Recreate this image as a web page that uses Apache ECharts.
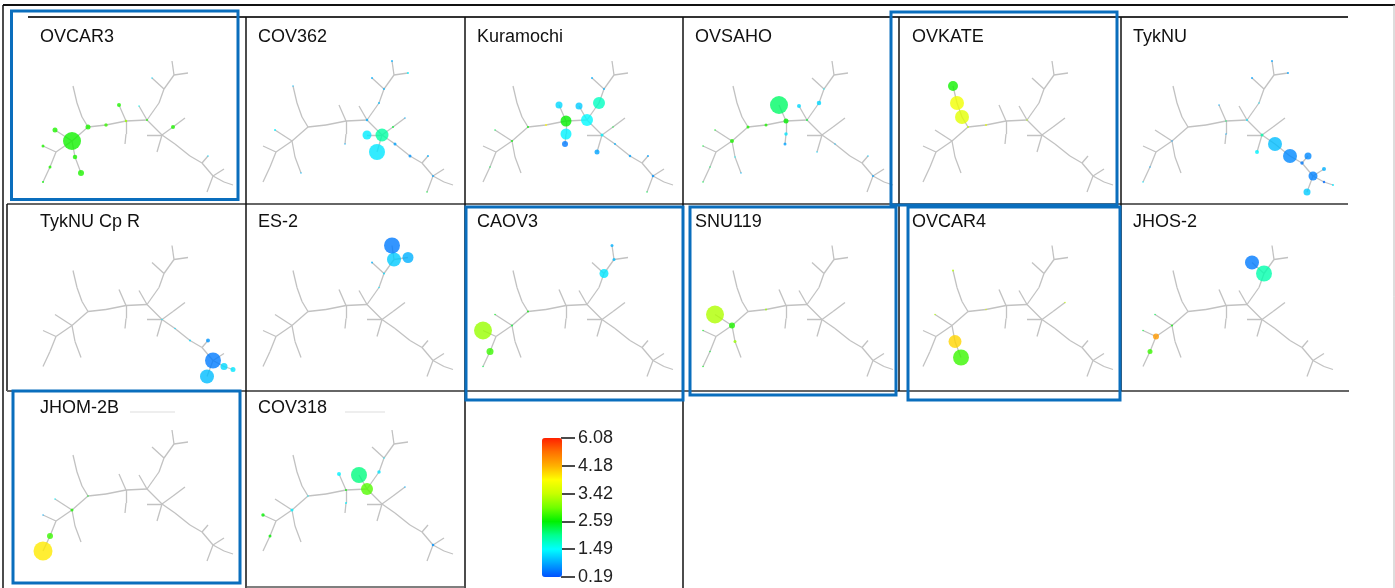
<!DOCTYPE html>
<html><head><meta charset="utf-8">
<script src="https://cdn.jsdelivr.net/npm/echarts@6/dist/echarts.min.js"></script>
<style>html,body{margin:0;padding:0;background:#fff}#c{width:1395px;height:588px}</style>
</head><body><div id="c"></div>
<script>
// ---- colour scale ticks ----
const tickValues = [0.19, 1.49, 2.59, 3.42, 4.18, 6.08];
const tickLabels = ['0.19', '1.49', '2.59', '3.42', '4.18', '6.08'];

// ---- shared tree layout (tree units) ----
const treeNodeNames = ['L1','A1','A','L2','B','Bul','Bd1','L3','C','Cu1','Cu2','L4','S1','D','Du','Dd1','Dd','E','Eu','EF1','F','Fl','H','Hu','Hr','G','Gl','Gd','Gur1','Gur','GI1','GI2','I','Il','J','Jur','Jdl','Jr1','Jr'];
const treeNodeX = [17,24,30,17,46,29,49,55,62,56,51,47,80,100,93,100,99,121,113,133,138,126,148,146,162,136,121,131,147,159,149,164,176,182,187,198,181,198,207];
const treeNodeY = [165,150,135,129,124,113,140,156,110,100,86,69,108,104,88,117,127,103,89,86,72,61,58,44,56,118,118,135,110,101,127,139,146,139,159,152,175,165,168];
const treeEdges = [['L1','A1'],['A1','A'],['A','L2'],['A','B'],['B','Bul'],['B','Bd1'],['Bd1','L3'],['B','C'],['C','Cu1'],['Cu1','Cu2'],['Cu2','L4'],['C','S1'],['S1','D'],['D','Du'],['D','Dd1'],['Dd1','Dd'],['D','E'],['E','Eu'],['E','EF1'],['EF1','F'],['F','Fl'],['F','H'],['H','Hu'],['H','Hr'],['E','G'],['G','Gl'],['G','Gd'],['G','Gur1'],['Gur1','Gur'],['G','GI1'],['GI1','GI2'],['GI2','I'],['I','Il'],['I','J'],['J','Jur'],['J','Jdl'],['J','Jr1'],['Jr1','Jr']];

// ---- panels ----
const panelNames = ['OVCAR3','COV362','Kuramochi','OVSAHO','OVKATE','TykNU','TykNU Cp R','ES-2','CAOV3','SNU119','OVCAR4','JHOS-2','JHOM-2B','COV318'];
const panelCol = [0,1,2,3,4,5,0,1,2,3,4,5,0,1];
const panelRow = [0,0,0,0,0,0,1,1,1,1,1,1,2,2];

// per panel markers: [node, value, size]
const OVCAR3 = [['Eu',1.5,1.5],['Fl',1.2,1.5],['Il',1.2,1.5],['L1',2.6,2],['L2',2.7,3],['A1',2.7,3],['E',2.7,2],['D',3.2,2.5],['S1',2.8,3.5],['Du',2.7,4],['Gur1',2.7,4],['Bd1',2.7,4.5],['Bul',2.7,5],['C',2.7,5],['L3',2.7,6],['B',2.65,18]];
const COV362 = [['Hu',0.9,2],['Hr',1.4,2],['Fl',0.9,2],['F',0.9,2],['EF1',1.0,2],['E',0.9,2.5],['Dd',0.9,1.5],['GI1',0.8,3],['GI2',0.7,3],['Il',0.9,2],['J',0.8,2],['Jdl',2.4,1.5],['Gur1',2.4,2],['Gur',0.9,1.5],['Bul',1.4,2],['L3',1.0,1.5],['L4',1.0,1.5],['Gl',1.35,9],['G',1.95,13],['Gd',1.3,16]];
const Kuramochi = [['F',0.9,2],['Fl',0.9,2],['Gur1',2.4,1.5],['GI1',0.9,2],['GI2',0.8,2.5],['Il',0.8,2],['J',0.7,2.5],['Jdl',2.3,1.5],['C',2.6,2],['S1',3.8,2],['B',2.6,2],['A1',2.3,1.5],['Bul',2.3,1.5],['G',1.4,3],['Gd',0.8,5],['Dd',0.5,6],['Du',1.2,7],['Eu',1.1,7],['D',2.6,11],['Dd1',1.4,11],['E',1.45,12],['EF1',1.8,12]];
const OVSAHO = [['Bul',2.5,1.5],['L2',2.4,1.5],['A1',2.2,1.5],['L1',2.3,1.5],['Bd1',1.4,1.5],['L3',1.0,1.5],['F',1.4,1.5],['Il',1.1,1.5],['J',0.8,2],['GI1',1.0,1.5],['Gd',1.2,1.5],['E',2.4,2],['S1',2.7,3],['C',2.7,3],['B',2.7,4],['Dd',0.8,3],['Dd1',1.3,3.5],['Eu',1.2,4],['EF1',1.2,4.5],['D',2.6,5],['Du',2.2,18]];
const OVKATE = [['S1',3.6,2],['C',3.4,2],['E',3.3,1.5],['L4',2.65,10],['Cu2',3.7,14],['Cu1',3.6,14]];
const TykNU = [['Hu',0.8,2],['Hr',0.8,2],['Fl',0.8,2],['EF1',1.3,1.5],['E',1.3,2],['Du',0.9,1.5],['D',2.2,1.5],['Dd1',0.9,1.5],['B',0.8,1.5],['L1',1.3,1.5],['A1',0.9,1.5],['G',1.9,3],['Gd',1.4,4],['Jr1',0.4,2.5],['Jr',1.3,2],['I',0.5,3.5],['Jur',0.9,4],['Il',0.6,7],['Jdl',1.1,7],['J',0.55,9],['GI1',1.0,14],['GI2',0.6,14]];
const TykNUCpR = [['GI1',1.2,1.5],['GI2',1.2,2],['G',1.3,1.5],['Il',0.7,4],['Jr',1.3,5],['Jr1',1.2,7],['Jdl',1.0,14],['J',0.5,16]];
const ES2 = [['Fl',0.9,2],['F',1.2,2],['EF1',1.3,1.5],['Hr',0.9,11],['H',1.1,14],['Hu',0.5,16]];
const CAOV3 = [['C',2.6,2],['Bul',2.5,1.5],['B',2.4,2],['L1',2.3,1.5],['Hu',0.9,3],['H',1.0,3],['A1',2.8,7],['F',1.3,9],['L2',3.2,18]];
const SNU119 = [['L2',2.5,1.5],['A1',2.4,1.5],['L1',2.5,1.5],['S1',3.2,2],['Bd1',3.2,3],['B',2.7,6],['Bul',3.3,18]];
const OVCAR4 = [['L4',3.3,2],['Bul',3.3,1.5],['S1',3.5,1.5],['Gur',3.4,1.5],['Bd1',4.0,13],['L3',2.8,16]];
const JHOS2 = [['L2',2.4,1.5],['B',2.6,2],['Bul',2.3,1.5],['A1',2.8,5],['A',4.5,6],['Fl',0.5,14],['F',1.9,16]];
const JHOM2B = [['Bul',1.4,1.5],['L2',0.9,1.5],['C',2.5,1.5],['B',2.7,3],['A1',2.8,6],['L1',3.9,19]];
const COV318 = [['F',1.3,1.5],['C',1.4,1.5],['Gur',0.9,1.5],['J',0.7,2.5],['D',2.6,2],['Dd1',1.4,2],['A1',2.6,3],['B',1.4,3],['L2',2.6,3.5],['EF1',1.3,3.5],['Du',1.4,4],['E',2.9,12],['Eu',2.1,16]];
const panelData = [OVCAR3,COV362,Kuramochi,OVSAHO,OVKATE,TykNU,TykNUCpR,ES2,CAOV3,SNU119,OVCAR4,JHOS2,JHOM2B,COV318];

// ---- layout ----
const colX = [26,246,466,686,906,1126];
const rowY = [17,201.5,386];
const titleX = [40,258,477,695,912,1133];
const titleY = [38,223,409];
const PW = 218, PH = 185;

const idx = {}; treeNodeNames.forEach((n,i)=>idx[n]=i);
function toT(v){
  for (let i=0;i<tickValues.length-1;i++){
    if (v<=tickValues[i+1]) return i + (v-tickValues[i])/(tickValues[i+1]-tickValues[i]);
  }
  return tickValues.length-1;
}
const FONT = 'Liberation Sans, Arial, sans-serif';
const grids=[], xAxes=[], yAxes=[], series=[], titles=[], scatterIdx=[];
panelNames.forEach((name,k)=>{
  const c=panelCol[k], r=panelRow[k];
  grids.push({left:colX[c], top:rowY[r], width:PW, height:PH});
  xAxes.push({gridIndex:k, type:'value', min:0, max:PW, show:false});
  yAxes.push({gridIndex:k, type:'value', min:0, max:PH, inverse:true, show:false});
  series.push({type:'lines', coordinateSystem:'cartesian2d', xAxisIndex:k, yAxisIndex:k, silent:true, z:1,
    lineStyle:{color:'#c2c2c2', width:1.3, opacity:1},
    data: treeEdges.map(e=>({coords:[[treeNodeX[idx[e[0]]],treeNodeY[idx[e[0]]]],[treeNodeX[idx[e[1]]],treeNodeY[idx[e[1]]]]]}))});
  scatterIdx.push(series.length);
  series.push({type:'scatter', xAxisIndex:k, yAxisIndex:k, z:3, silent:true,
    symbolSize:(v)=>v[3],
    data: panelData[k].map(d=>[treeNodeX[idx[d[0]]], treeNodeY[idx[d[0]]], toT(d[1]), d[2]])});
  titles.push({text:name, left:titleX[c], top:titleY[r]-10, padding:0,
    textStyle:{fontSize:18, fontWeight:'normal', fontFamily:FONT, color:'#111'}});
});
// colour bar axis
const gi = panelNames.length;
grids.push({left:561, top:438, width:1, height:139});
xAxes.push({gridIndex:gi, type:'value', show:false, min:0, max:1});
yAxes.push({gridIndex:gi, type:'value', min:0, max:tickLabels.length-1, interval:1, position:'right',
  axisLine:{show:false}, splitLine:{show:false},
  axisTick:{show:true, length:14, lineStyle:{color:'#111', width:1.5}},
  axisLabel:{formatter:(v)=>tickLabels[v], fontSize:18, fontFamily:FONT, color:'#222', margin:16}});
series.push({type:'scatter', xAxisIndex:gi, yAxisIndex:gi, data:[]});

// frame & highlight boxes
const K='#333', BL='#0a6ebd';
function ln(x1,y1,x2,y2,c,w){return {type:'line', silent:true, z:50, shape:{x1,y1,x2,y2}, style:{stroke:c, lineWidth:w}};}
function box(x1,y1,x2,y2){return {type:'rect', silent:true, z:60, shape:{x:x1,y:y1,width:x2-x1,height:y2-y1}, style:{fill:'none', stroke:BL, lineWidth:3}};}
const graphics = [
  ln(3,5,1395,5,'#111',2), ln(3,5,3,588,'#111',1.5), ln(1394,5,1394,588,'#bbb',1),
  ln(28,17,1348,17,K,2),
  ln(7,204,1348,204,K,1.5), ln(7,204,7,391,'#111',1.5),
  ln(7,391,1349,391,'#666',2),
  ln(246,17,246,588,'#111',1.5), ln(465,17,465,588,'#111',1.5), ln(683,17,683,588,'#111',1.5),
  ln(899,17,899,391,'#111',1.5), ln(1121,17,1121,391,'#111',1.5),
  ln(246,587,465,587,'#555',1.5),
  ln(130,412,175,412,'#ddd',1), ln(345,412,385,412,'#ddd',1),
  box(11.5,11,238,199.5), box(891,12,1117,205), box(466,207,683,400), box(690,207,896,395), box(908,207,1120,400), box(13,391,240,583)
];

const chart = echarts.init(document.getElementById('c'));
chart.setOption({
  animation:false,
  backgroundColor:'#fff',
  title:titles,
  grid:grids, xAxis:xAxes, yAxis:yAxes,
  visualMap:{type:'continuous', min:0, max:tickLabels.length-1, dimension:2, seriesIndex:scatterIdx,
    calculable:false, orient:'vertical', left:542, top:438, itemWidth:20, itemHeight:139, padding:0, text:null, showLabel:false,
    inRange:{color:['#0050ff','#00a8ff','#00ffff','#00ff90','#00f000','#70ff00','#c8ff00','#ffff00','#ffb000','#ff7000','#ff2000']}},
  series:series,
  graphic:graphics
});
</script></body></html>
